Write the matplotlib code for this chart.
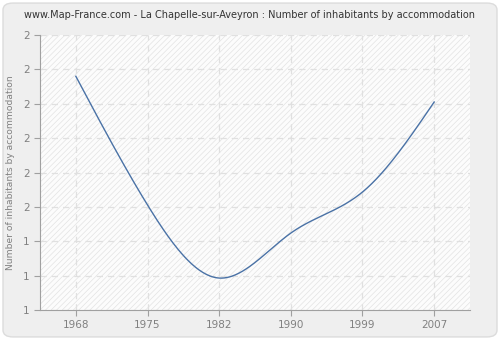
import numpy as np
import matplotlib.pyplot as plt
from matplotlib.patches import Rectangle, FancyBboxPatch
from matplotlib.ticker import FuncFormatter

# Data
years = ['1968', '1975', '1982', '1990', '1999', '2007']
inhabitants = [2.19, 1.535, 1.163, 1.392, 1.601, 2.059]


def natural_spline(x, y, n=300):
    # natural cubic spline through the points, only used to draw a smooth line
    x = np.asarray(x, float)
    y = np.asarray(y, float)
    k = len(x)
    h = np.diff(x)
    A = np.zeros((k, k))
    r = np.zeros(k)
    A[0, 0] = A[-1, -1] = 1
    for i in range(1, k - 1):
        A[i, i - 1] = h[i - 1]
        A[i, i] = 2 * (h[i - 1] + h[i])
        A[i, i + 1] = h[i]
        r[i] = 3 * ((y[i + 1] - y[i]) / h[i] - (y[i] - y[i - 1]) / h[i - 1])
    c = np.linalg.solve(A, r)
    xs = np.linspace(x[0], x[-1], n)
    idx = np.clip(np.searchsorted(x, xs) - 1, 0, k - 2)
    dx = xs - x[idx]
    b = (y[idx + 1] - y[idx]) / h[idx] - h[idx] * (2 * c[idx] + c[idx + 1]) / 3
    d = (c[idx + 1] - c[idx]) / (3 * h[idx])
    ys = y[idx] + b * dx + c[idx] * dx ** 2 + d * dx ** 3
    return xs, ys


plt.rcParams['hatch.linewidth'] = 0.5

fig = plt.figure(figsize=(5, 3.4), dpi=100)
fig.patch.set_facecolor('white')
fig.patches.append(FancyBboxPatch((0.006, 0.009), 0.988, 0.982, boxstyle='round,pad=0,rounding_size=0.02',
                                  transform=fig.transFigure, facecolor='#efefef', edgecolor='#dcdcdc',
                                  linewidth=1, zorder=-10))

ax = fig.add_axes([0.08, 0.088, 0.86, 0.809])
ax.set_facecolor('#fcfcfc')
ax.add_patch(Rectangle((0, 0), 1, 1, transform=ax.transAxes, facecolor='#fcfcfc',
                       edgecolor='#e3e3e3', hatch='//////', linewidth=0, zorder=0))

xpos = np.arange(len(years))
xs, ys = natural_spline(xpos, inhabitants)
ax.plot(xs, ys, color='#4a72a6', linewidth=1, zorder=3)

ax.set_xlim(-0.5, 5.5)
ax.set_ylim(1.0, 2.4)
ax.set_xticks(xpos)
ax.set_xticklabels(years)
ax.set_yticks(np.linspace(1.0, 2.4, 9))
ax.yaxis.set_major_formatter(FuncFormatter(lambda v, p: f'{v:.0f}'))

ax.grid(True, color='#e0e0e0', linestyle=(0, (5, 4)), linewidth=0.9)
ax.set_axisbelow(True)
for s in ['top', 'right']:
    ax.spines[s].set_visible(False)
for s in ['left', 'bottom']:
    ax.spines[s].set_color('#a0a0a0')
ax.tick_params(colors='#a0a0a0', labelcolor='#808080', labelsize=7.5, length=4)

ax.set_ylabel('Number of inhabitants by accommodation', fontsize=6.6, color='#808080', labelpad=6)
fig.text(0.5, 0.955, 'www.Map-France.com - La Chapelle-sur-Aveyron : Number of inhabitants by accommodation',
         ha='center', va='center', fontsize=7, color='#333333')

fig.savefig('out.png', dpi=100)
